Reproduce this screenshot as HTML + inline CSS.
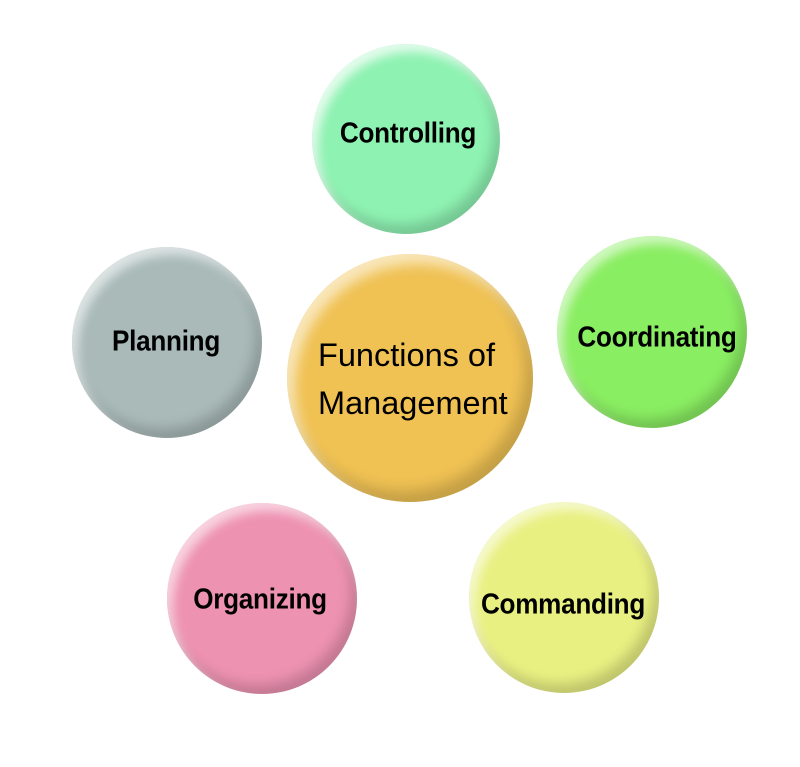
<!DOCTYPE html>
<html><head><meta charset="utf-8"><style>
html,body{margin:0;padding:0;background:#fff;width:800px;height:767px;overflow:hidden;font-family:"Liberation Sans",sans-serif}
.c{position:absolute;border-radius:50%;box-sizing:border-box}
.t{position:absolute;font-weight:bold;font-size:29px;letter-spacing:-0.3px;transform:translate(-50%,-50%) scaleX(0.9);white-space:nowrap;color:#000}
</style></head><body>
<div class="c" style="left:312px;top:44px;width:188px;height:190px;background:#8ef2b2;box-shadow:inset 6px 8px 10px rgba(255,255,255,.75),inset -6px -9px 12px rgba(0,0,0,.18)"></div>
<div class="c" style="left:72px;top:247px;width:190px;height:191px;background:#a9bab9;box-shadow:inset 6px 8px 10px rgba(255,255,255,.6),inset -6px -9px 12px rgba(0,0,0,.18)"></div>
<div class="c" style="left:287px;top:254px;width:246px;height:248px;background:#f0c254;box-shadow:inset 8px 10px 12px rgba(255,255,255,.6),inset -8px -11px 14px rgba(0,0,0,.18)"></div>
<div class="c" style="left:557px;top:236px;width:190px;height:192px;background:#8aee62;box-shadow:inset 6px 8px 10px rgba(255,255,255,.6),inset -6px -9px 12px rgba(0,0,0,.18)"></div>
<div class="c" style="left:167px;top:503px;width:190px;height:191px;background:#ee92b2;box-shadow:inset 6px 8px 10px rgba(255,255,255,.6),inset -6px -9px 12px rgba(0,0,0,.18)"></div>
<div class="c" style="left:469px;top:502px;width:190px;height:191px;background:#e9f082;box-shadow:inset 6px 8px 10px rgba(255,255,255,.6),inset -6px -9px 12px rgba(0,0,0,.18)"></div>
<div class="t" style="left:408px;top:134px">Controlling</div>
<div class="t" style="left:166px;top:342px">Planning</div>
<div class="t" style="left:657px;top:338px">Coordinating</div>
<div class="t" style="left:260px;top:600px">Organizing</div>
<div class="t" style="left:563px;top:605px">Commanding</div>
<div style="position:absolute;left:318px;top:331px;font-size:32.5px;line-height:48px;color:#000;white-space:nowrap">Functions of<br>Management</div>
</body></html>
